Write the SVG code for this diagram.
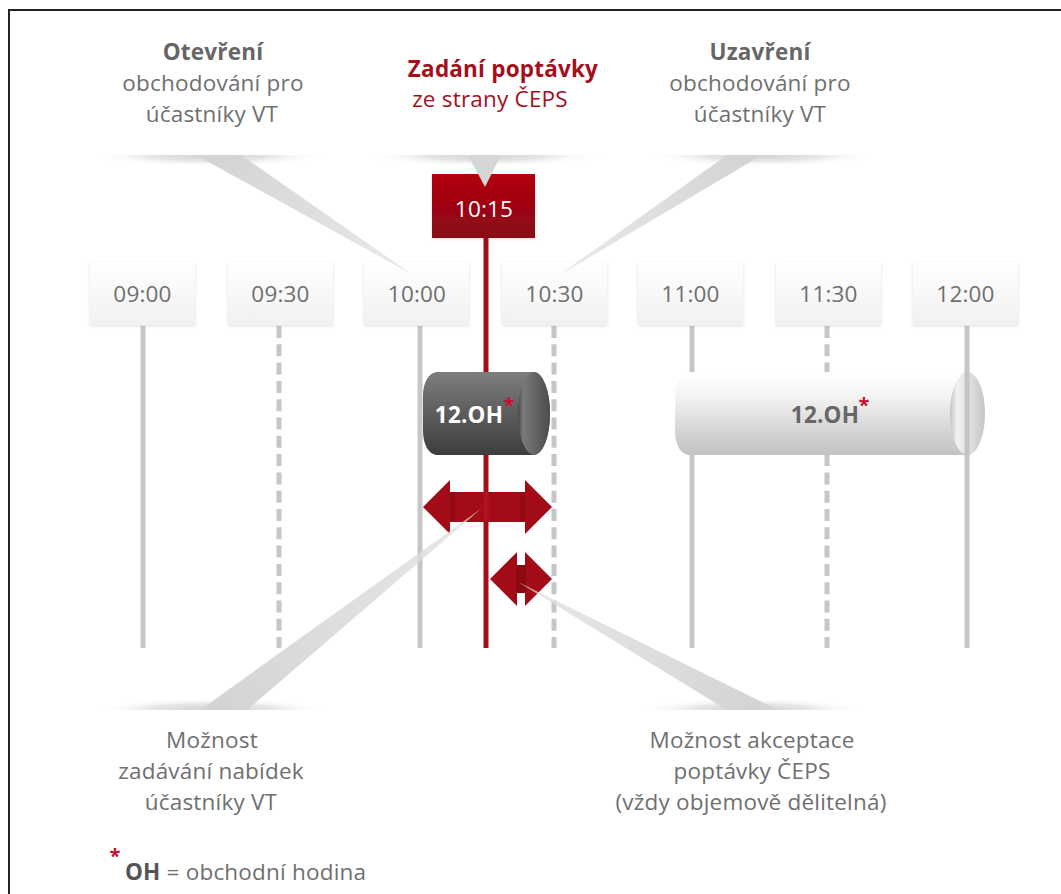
<svg xmlns="http://www.w3.org/2000/svg" width="1061" height="894" viewBox="0 0 1061 894">
<defs>
<style>
.t{font-family:"Open Sans","Noto Sans","DejaVu Sans",sans-serif;font-size:22.5px;fill:#6f6f6f;text-anchor:middle;letter-spacing:0.2px}
.b{font-weight:bold;fill:#666}
.r{fill:#a50f1c}
.box{fill:url(#gBox);filter:url(#sh)}
.vl{stroke:#c6c6c6;stroke-width:5;fill:none}
.dash{stroke-dasharray:12 6.3}
.arrow{fill:#a30b16}
.star{font-family:"Open Sans","DejaVu Sans",sans-serif;font-weight:bold;font-size:20px;fill:#c8102e;text-anchor:middle}
</style>
<filter id="sh" x="-20%" y="-20%" width="140%" height="140%">
<feDropShadow dx="0" dy="1" stdDeviation="1.6" flood-color="#000" flood-opacity="0.13"/>
</filter>
<linearGradient id="gBox" x1="0" y1="0" x2="0" y2="1">
<stop offset="0" stop-color="#ffffff"/><stop offset="1" stop-color="#f1f1f1"/>
</linearGradient>
<linearGradient id="gRed" x1="0" y1="0" x2="0" y2="1">
<stop offset="0" stop-color="#b3000f"/><stop offset="1" stop-color="#880a14"/>
</linearGradient>
<linearGradient id="gDark" x1="0" y1="0" x2="0" y2="1">
<stop offset="0" stop-color="#7e7e7e"/><stop offset="0.5" stop-color="#5c5c5c"/><stop offset="1" stop-color="#3d3d3d"/>
</linearGradient>
<linearGradient id="gDarkCap" x1="0" y1="0" x2="1" y2="0">
<stop offset="0" stop-color="#454545"/><stop offset="0.15" stop-color="#7a7a7a"/><stop offset="1" stop-color="#4c4c4c"/>
</linearGradient>
<linearGradient id="gLight" x1="0" y1="0" x2="0" y2="1">
<stop offset="0" stop-color="#ffffff"/><stop offset="0.3" stop-color="#f3f3f3"/><stop offset="0.75" stop-color="#d2d2d2"/><stop offset="1" stop-color="#c3c3c3"/>
</linearGradient>
<linearGradient id="gLightCap" x1="0" y1="0" x2="1" y2="0">
<stop offset="0" stop-color="#c2c2c2"/><stop offset="0.2" stop-color="#f2f2f2"/><stop offset="1" stop-color="#c6c6c6"/>
</linearGradient>
<radialGradient id="gShadow" cx="0.5" cy="0.5" r="0.5">
<stop offset="0" stop-color="#d2d2d2"/><stop offset="0.5" stop-color="#e5e5e5"/><stop offset="1" stop-color="#ffffff" stop-opacity="0"/>
</radialGradient>
<linearGradient id="wTL" gradientUnits="userSpaceOnUse" x1="218" y1="155" x2="413" y2="275">
<stop offset="0" stop-color="#d4d4d4"/><stop offset="1" stop-color="#d4d4d4" stop-opacity="0.5"/>
</linearGradient>
<linearGradient id="wTR" gradientUnits="userSpaceOnUse" x1="744" y1="155" x2="558" y2="276">
<stop offset="0" stop-color="#d4d4d4"/><stop offset="1" stop-color="#d4d4d4" stop-opacity="0.5"/>
</linearGradient>
<linearGradient id="wBL" gradientUnits="userSpaceOnUse" x1="223" y1="710" x2="482" y2="508">
<stop offset="0" stop-color="#d4d4d4"/><stop offset="1" stop-color="#dedede" stop-opacity="0.7"/>
</linearGradient>
<linearGradient id="wBR" gradientUnits="userSpaceOnUse" x1="752" y1="710" x2="518" y2="582">
<stop offset="0" stop-color="#d4d4d4"/><stop offset="1" stop-color="#dedede" stop-opacity="0.7"/>
</linearGradient>
<clipPath id="cTop"><rect x="0" y="155" width="1061" height="30"/></clipPath>
<clipPath id="cBot"><rect x="0" y="680" width="1061" height="30"/></clipPath>
</defs>

<rect x="0" y="0" width="1061" height="894" fill="#ffffff"/>
<path d="M9 894 V10 H1061" fill="none" stroke="#222" stroke-width="2"/>

<g id="shadows">
<g clip-path="url(#cTop)">
<ellipse cx="210" cy="155" rx="120" ry="12" fill="url(#gShadow)"/>
<ellipse cx="485" cy="155" rx="120" ry="12" fill="url(#gShadow)"/>
<ellipse cx="762" cy="155" rx="115" ry="12" fill="url(#gShadow)"/>
</g>
<g clip-path="url(#cBot)">
<ellipse cx="212" cy="710" rx="120" ry="12" fill="url(#gShadow)"/>
<ellipse cx="752" cy="710" rx="116" ry="12" fill="url(#gShadow)"/>
</g>
</g>

<g id="connectors">
<line class="vl" x1="143" y1="326" x2="143" y2="648"/>
<line class="vl dash" x1="279" y1="326" x2="279" y2="648"/>
<line class="vl" x1="420" y1="326" x2="420" y2="648"/>
<line class="vl dash" x1="554" y1="326" x2="554" y2="648"/>
<line class="vl" x1="692" y1="326" x2="692" y2="648"/>
<line class="vl dash" x1="827" y1="326" x2="827" y2="648"/>
<line class="vl" x1="967" y1="326" x2="967" y2="648"/>
<line x1="486" y1="236" x2="486" y2="648" stroke="#a50d18" stroke-width="5"/>
</g>

<g id="t0900"><rect class="box" x="90" y="262" width="105" height="63"/><text class="t" x="142.5" y="302">09:00</text></g>
<g id="t0930"><rect class="box" x="228" y="262" width="105" height="63"/><text class="t" x="280.5" y="302">09:30</text></g>
<g id="t1000"><rect class="box" x="364" y="262" width="105" height="63"/><text class="t" x="417" y="302">10:00</text></g>
<g id="t1030"><rect class="box" x="502" y="262" width="105" height="63"/><text class="t" x="554.5" y="302">10:30</text></g>
<g id="t1100"><rect class="box" x="638" y="262" width="105" height="63"/><text class="t" x="690.5" y="302">11:00</text></g>
<g id="t1130"><rect class="box" x="776" y="262" width="105" height="63"/><text class="t" x="828.5" y="302">11:30</text></g>
<g id="t1200"><rect class="box" x="913" y="262" width="105" height="63"/><text class="t" x="965.5" y="302">12:00</text></g>

<g id="t1015">
<rect x="432" y="174" width="103" height="64" fill="url(#gRed)" filter="url(#sh)"/>
<text class="t" x="484" y="217" style="fill:#ffffff">10:15</text>
</g>

<g id="cyl-dark">
<path d="M438 372 H534 A16 41.5 0 0 1 534 455 H438 C429 455 423 445 423 430 V397 C423 382 429 372 438 372 Z" fill="url(#gDark)"/>
<ellipse cx="534" cy="413.5" rx="16" ry="41.5" fill="url(#gDarkCap)"/>
<text class="t b" x="469" y="423" style="fill:#ffffff">12.OH</text>
<text class="star" x="509" y="412">*</text>
</g>

<g id="cyl-light">
<path d="M690 372 H967 A17.5 41.5 0 0 1 967 455 H690 C681 455 675 445 675 430 V397 C675 382 681 372 690 372 Z" fill="url(#gLight)"/>
<ellipse cx="967.5" cy="413.5" rx="17.5" ry="41.5" fill="url(#gLightCap)"/>
<line x1="967" y1="372" x2="967" y2="455" stroke="#bdbdbd" stroke-width="5" opacity="0.8"/>
<text class="t b" x="825" y="423">12.OH</text>
<text class="star" x="864" y="412">*</text>
</g>

<g id="arrow-big">
<path class="arrow" d="M423 507 L450 480 V492 H525 V480 L552 507 L525 534 V522 H450 V534 Z"/>
<rect x="450" y="492" width="5" height="30" fill="#8c0812" opacity="0.6"/>
<rect x="520" y="492" width="5" height="30" fill="#8c0812" opacity="0.6"/>
<line x1="486" y1="492" x2="486" y2="522" stroke="#b0121f" stroke-width="5"/>
</g>

<g id="arrow-small">
<path class="arrow" d="M490 579 L517 552 V606 Z"/>
<path class="arrow" d="M525 552 L552 579 L525 606 Z"/>
<rect x="516" y="565" width="10" height="28" fill="#8c0812"/>
</g>

<g id="pointers">
<polygon points="196,155 241,155 413,275" fill="url(#wTL)"/>
<polygon points="727,155 762,155 558,276" fill="url(#wTR)"/>
<polygon points="468,155 501,155 485,187" fill="#d6d6d6"/>
<polygon points="200,710 247,710 482,508" fill="url(#wBL)"/>
<polygon points="727,710 778,710 518,582" fill="url(#wBR)"/>
</g>

<g id="label-open">
<text class="t b" x="213" y="60">Otevření</text>
<text class="t" x="213" y="91">obchodování pro</text>
<text class="t" x="212" y="122">účastníky VT</text>
</g>
<g id="label-demand">
<text class="t b r" x="503" y="77">Zadání poptávky</text>
<text class="t r" x="490" y="107">ze strany ČEPS</text>
</g>
<g id="label-close">
<text class="t b" x="760" y="60">Uzavření</text>
<text class="t" x="760" y="91">obchodování pro</text>
<text class="t" x="760" y="122">účastníky VT</text>
</g>
<g id="label-offers">
<text class="t" x="212" y="748">Možnost</text>
<text class="t" x="211" y="779">zadávání nabídek</text>
<text class="t" x="211" y="810">účastníky VT</text>
</g>
<g id="label-accept">
<text class="t" x="752" y="748">Možnost akceptace</text>
<text class="t" x="752" y="779">poptávky ČEPS</text>
<text class="t" x="751" y="810">(vždy objemově dělitelná)</text>
</g>
<g id="legend">
<text class="star" x="115" y="863">*</text>
<text class="t" x="125" y="880" style="text-anchor:start"><tspan class="b" style="fill:#555">OH</tspan> = obchodní hodina</text>
</g>
</svg>
